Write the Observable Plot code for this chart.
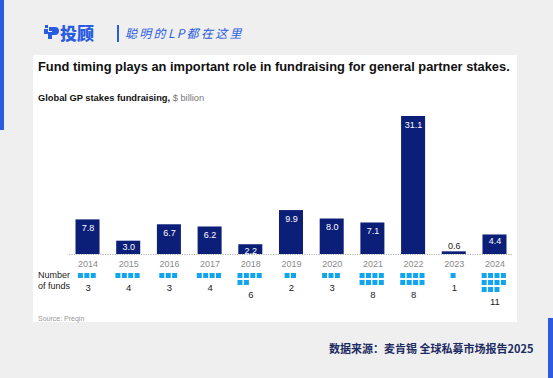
<!DOCTYPE html>
<html><head><meta charset="utf-8">
<script src="https://cdn.jsdelivr.net/npm/d3@7"></script>
<script src="https://cdn.jsdelivr.net/npm/@observablehq/plot@0.6"></script>
<style>
html,body{margin:0;padding:0;}
body{width:553px;height:378px;position:relative;overflow:hidden;background:#efefef;font-family:"Liberation Sans",Arial,sans-serif;}
.abs{position:absolute;}
#card{left:33px;top:55px;width:484px;height:267px;background:#fff;}
#title{left:38px;top:59px;font-size:12.85px;font-weight:bold;color:#111;white-space:nowrap;}
#sub{left:38px;top:93px;font-size:9.3px;font-weight:bold;color:#111;white-space:nowrap;}
#sub span{font-weight:normal;color:#777;}
#nf{left:38px;top:270px;font-size:9px;color:#222;line-height:11px;}
#src{left:38px;top:315px;font-size:7px;color:#999;}
#cn{left:329px;top:340px;font-family:"Noto Sans CJK SC",sans-serif;font-size:11px;font-weight:bold;color:#1d2b63;white-space:nowrap;}
#brand{left:60px;top:20px;font-family:"Noto Sans CJK SC",sans-serif;font-size:17px;font-weight:900;color:#2a5ce0;}
#sep{left:117px;top:25px;width:1.5px;height:17px;background:#2a5ce0;}
#slogan{left:125px;top:24px;font-family:"Noto Sans CJK SC",sans-serif;font-size:12px;font-style:italic;letter-spacing:2.3px;color:#2a5ce0;white-space:nowrap;}
#lstrip{left:0;top:0;width:4px;height:130px;background:#2a5ce0;}
#rstrip{left:548px;top:318px;width:5px;height:60px;background:#2a5ce0;}
#p1{left:0;top:105px;}
#p2{left:0;top:265px;}
</style></head>
<body>
<div id="lstrip" class="abs"></div>
<div id="rstrip" class="abs"></div>
<svg class="abs" style="left:43px;top:23px" width="16" height="18" viewBox="0 0 16 18">
  <path d="M2 2h3v3H2z M6 4h6a4 4 0 0 1 0 8H9v4H5v-7h4v-1h3v-0H6z" fill="#2a5ce0"/>
  <rect x="1" y="6" width="4" height="5" fill="#2a5ce0"/>
</svg>
<div id="brand" class="abs">投顾</div>
<div id="sep" class="abs"></div>
<div id="slogan" class="abs">聪明的LP都在这里</div>
<div id="card" class="abs"></div>
<div id="title" class="abs">Fund timing plays an important role in fundraising for general partner stakes.</div>
<div id="sub" class="abs">Global GP stakes fundraising, <span>$ billion</span></div>
<div id="p1" class="abs"></div>
<div id="p2" class="abs"></div>
<div id="nf" class="abs">Number<br>of funds</div>
<div id="src" class="abs">Source: Preqin</div>
<div id="cn" class="abs">数据来源：麦肯锡 全球私募市场报告2025</div>
<script>
const years = ["2014","2015","2016","2017","2018","2019","2020","2021","2022","2023","2024"];
const values = [7.8, 3.0, 6.7, 6.2, 2.2, 9.9, 8.0, 7.1, 31.1, 0.6, 4.4];
const funds = [3, 4, 3, 4, 6, 2, 3, 8, 8, 1, 11];

const navy = "#0b1e78";
const cyan = "#12a5ef";
const fmt = d3.format(".1f");

const bars = years.map((y, i) => ({year: y, value: values[i], label: fmt(values[i])}));

const p1 = Plot.plot({
  width: 553, height: 170,
  marginLeft: 69, marginRight: 40, marginTop: 7, marginBottom: 21,
  style: {fontSize: "9px", fontFamily: "Liberation Sans, Arial, sans-serif", color: "#8a8a8a", background: "transparent", overflow: "visible"},
  x: {domain: years, paddingInner: 0.41, paddingOuter: 0.16, round: false, tickSize: 0, tickPadding: 6, label: null},
  y: {domain: [0, 32], axis: null},
  marks: [
    Plot.ruleY([0], {stroke: "#b0b0b0", strokeDasharray: "1.2 1.2"}),
    Plot.barY(bars, {x: "year", y: "value", fill: navy}),
    Plot.text(bars.filter(d => d.value >= 5), {x: "year", y: "value", text: "label", dy: 8.5, fill: "#fff", fontSize: 9}),
    Plot.text(bars.filter(d => d.value >= 1 && d.value < 5), {x: "year", y: "value", text: "label", dy: 6, fill: "#fff", fontSize: 9}),
    Plot.text(bars.filter(d => d.value < 1), {x: "year", y: "value", text: "label", dy: -6, fill: "#222", fontSize: 9})
  ]
});
document.getElementById("p1").appendChild(p1);

const squares = [];
years.forEach((y, i) => {
  const n = funds[i];
  const shift = n <= 4 ? (4 - n) / 2 : 0;
  for (let k = 0; k < n; k++) {
    squares.push({year: y, row: Math.floor(k / 4), col: (k % 4) + shift});
  }
});
const counts = years.map((y, i) => ({year: y, n: funds[i], rows: Math.ceil(funds[i] / 4)}));

const p2 = Plot.plot({
  width: 553, height: 50,
  marginLeft: 69, marginRight: 40, marginTop: 0, marginBottom: 0,
  style: {fontSize: "9px", fontFamily: "Liberation Sans, Arial, sans-serif", background: "transparent", overflow: "visible"},
  fx: {domain: years, paddingInner: 0.37, paddingOuter: 0.14, round: false, axis: null},
  x: {domain: [0, 4], axis: null},
  y: {domain: [0, 5], range: [8, 43], axis: null},
  marks: [
    Plot.rect(squares, {fx: "year", x1: "col", x2: d => d.col + 1, y1: "row", y2: d => d.row + 1, insetRight: 1.4, insetBottom: 2, fill: cyan}),
    Plot.text(counts, {fx: "year", x: () => 2, y: d => d.rows + 1, text: d => String(d.n), fill: "#222", fontSize: 9.5})
  ]
});
document.getElementById("p2").appendChild(p2);
</script>
</body></html>
